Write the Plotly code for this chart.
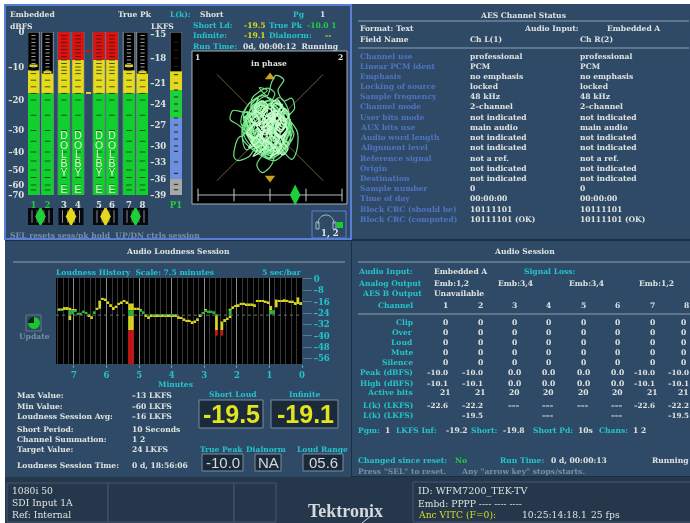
import numpy as np
import plotly.graph_objects as go

W, H = 690, 523
SERIF = "DejaVu Serif"
WHITE, CYAN, BLUE = "#dfe3e0", "#24c4cc", "#4f74c4"
YELLOW, GREEN, GREY = "#dcdc22", "#1fd03c", "#7890a6"
PANEL, STRIP = "#2e4a66", "#24374b"
TS = 7.6

# ---------- meter data ----------
channels = ["1", "2", "3", "4", "5", "6", "7", "8"]
channel_signal_db = [-11, -12, 0, 0, 0, 0, -11, -12]
channel_peak_db = [-10, -12, 0, 0, 0, 0, -10, -12]
dbfs_ticks = [0, -10, -20, -30, -40, -50, -60, -70]
dbfs_scale = [163, 128, 95, 64.5, 43, 25, 10, 0]
meter_marks_db = [-1, -2, -3, -4, -5, -6, -7, -8, -9, -10, -11, -12, -14, -16, -18, -20,
                  -25, -30, -35, -40, -45, -50, -55, -60, -65]
dolby_letters = ["D", "O", "L", "B", "Y", "E"]
dolby_db = [-32.6, -37.2, -41.7, -46.7, -52, -65]
lkfs_ticks = [-15, -18, -21, -24, -27, -30, -33, -36, -39]
lkfs_scale = [161, 137, 112, 91, 70, 49, 33, 16, 0]
lkfs_bands = [(-19.6, -22, "#e3d81e"), (-22, -26, GREEN), (-26, -36, "#6d8fe0"), (-36, -39, "#a8a8a8")]
lkfs_marks = [-16, -17, -18, -19, -20, -21, -22, -23, -24, -25, -26, -27, -28, -29, -30, -31, -33, -35, -37, -38]
pair_labels = ["1-2", "3-4", "5-6", "7-8"]
pair_colors = [GREEN, "#e3d81e", "#e3d81e", GREEN]
session_corr = [0.35]

# ---------- phase display (hand read trace) ----------
liss_x = [0.03,-0.3,-0.55,-0.7,-0.75,-0.6,-0.45,-0.6,-0.68,-0.62,-0.4,-0.2,0.07,0.03,-0.15,-0.25,-0.1,0.22,0.41,0.5,0.52,0.44,0.34,0.46,0.41,0.26,0.15,0.26,0.11,0.03,-0.05,-0.2,-0.05,
          -0.4,-0.5,-0.3,-0.1,0.11,0.32,0.38,0.26,0.07,-0.2,-0.45,-0.52,-0.3,0.0,0.22,0.38,0.32,0.09,-0.18,-0.38,-0.28,0.04,0.27,0.39,0.21,-0.04,-0.34,-0.55,-0.42,-0.12,0.15,0.35,0.45,0.28,0.01,-0.3,-0.48,-0.22,0.12,0.33,0.22,-0.08,-0.4,-0.36,0.0,0.24,0.42,0.3,0.06,-0.26,-0.5,-0.44,-0.1,0.18,0.38,0.25,0.0,-0.34,-0.46,-0.16,0.15,0.32,0.13,-0.14,-0.36,-0.12,0.19,0.36,0.16,-0.2,-0.44,-0.3,0.07,0.3,0.39,0.1,-0.24,-0.52,-0.2,0.09,-0.05,-0.35,-0.15,0.19,0.41,0.22]
liss_y = [0.1,0.25,0.3,0.32,0.15,0.05,-0.1,-0.2,-0.55,-0.62,-0.55,-0.3,-0.45,-0.7,-0.85,-0.7,-0.5,-0.45,-0.6,-0.45,-0.1,0.05,0.2,0.35,0.55,0.5,0.7,0.9,0.98,0.85,0.6,0.75,0.7,
          0.45,0.15,-0.1,0.38,0.5,0.28,-0.02,-0.32,-0.46,-0.28,-0.42,0.02,0.34,0.52,0.42,0.12,-0.22,-0.5,-0.38,-0.08,0.3,0.44,0.2,-0.16,-0.48,-0.56,-0.22,0.1,0.42,0.6,0.34,0.06,-0.12,-0.4,-0.58,-0.36,0.04,0.36,0.3,0.0,-0.3,-0.44,-0.16,0.26,0.5,0.36,-0.04,-0.34,-0.52,-0.44,-0.12,0.22,0.58,0.4,0.12,-0.2,-0.36,-0.26,0.18,0.46,0.28,-0.06,-0.42,-0.5,-0.08,0.3,0.56,0.24,-0.14,-0.26,0.06,0.44,0.38,0.02,-0.24,-0.62,-0.48,-0.18,0.2,0.64,0.74,0.52,0.1,0.22,0.06,0.16]
core_x = [0.0,-0.12,-0.25,-0.16,-0.3,-0.42,-0.3,-0.38,-0.24,-0.12,-0.2,-0.06,0.06,-0.04,0.1,0.2,0.12,0.22,0.3,0.2,0.28,0.36,0.24,0.14,0.22,0.1,0.02,0.1,-0.02,-0.14,-0.04,-0.18,-0.3,-0.2,-0.34,-0.44,-0.32,-0.4,-0.26,-0.14,-0.24,-0.1,0.02,-0.08,0.06,0.16,0.08,0.18,0.26,0.16,0.24,0.34,0.24,0.3,0.18,0.08,0.16,0.06,-0.06,0.04,-0.1,-0.22,-0.12,-0.26,-0.36,-0.24,-0.32,-0.18,-0.06,-0.16,-0.02,0.08,0.0,0.12,0.22,0.14,0.24,0.32,0.22,0.12,0.2,0.1,0.0,0.06,-0.06,-0.18,-0.08,-0.22,-0.34,-0.22,-0.3,-0.16,-0.04,-0.14,0.0,0.1,0.02,0.14,0.22,0.14,0.26,0.3,0.2,0.1,0.18,0.06,-0.04,0.06,-0.08,-0.2,-0.1,-0.24,-0.36,-0.26,-0.16,-0.02,0.08,0.16,0.06,0.14,0.02,-0.1,-0.02,-0.16,-0.08,0.04,0.12,0.02,0.1,0.2,0.1,0.02,-0.08,0.04,-0.06]
core_y = [0.0,0.12,0.04,-0.1,-0.2,-0.08,0.06,0.2,0.3,0.18,0.04,-0.06,0.08,0.22,0.32,0.2,0.06,-0.04,0.1,0.24,0.36,0.22,0.12,0.26,0.4,0.46,0.32,0.18,0.08,0.22,0.36,0.42,0.3,0.14,0.02,-0.12,-0.24,-0.38,-0.3,-0.16,-0.02,-0.14,-0.04,-0.2,-0.32,-0.2,-0.06,-0.16,-0.28,-0.4,-0.52,-0.4,-0.26,-0.12,-0.2,-0.08,0.06,0.16,0.02,-0.12,-0.24,-0.12,-0.28,-0.38,-0.26,-0.42,-0.54,-0.46,-0.34,-0.2,-0.3,-0.44,-0.56,-0.48,-0.36,-0.24,-0.14,-0.02,0.08,-0.02,0.14,0.24,0.12,0.28,0.38,0.26,0.14,0.04,0.14,0.26,0.38,0.5,0.42,0.28,0.18,0.3,0.44,0.52,0.4,0.28,0.18,0.04,-0.08,0.04,0.16,0.3,0.2,0.06,-0.06,-0.18,-0.04,-0.16,-0.28,-0.18,-0.3,-0.44,-0.36,-0.5,-0.4,-0.26,-0.14,-0.02,0.1,-0.04,0.1,0.24,0.12,0.26,0.14,0.02,0.12,0.0,-0.12,-0.02,0.08]
core2_x = [-0.5,-0.38,-0.46,-0.34,-0.42,-0.28,-0.36,-0.22,-0.3,-0.16,-0.26,-0.12,-0.2,-0.06,-0.16,-0.02,-0.1,0.02,-0.06,0.08,0.0,0.14,0.06,0.2,0.12,0.26,0.18,0.32,0.24,0.38,0.28,0.4,0.3,0.36,0.24,0.3,0.18,0.26,0.12,0.2,0.06,0.14,0.0,0.08,-0.06,0.02,-0.12,-0.04,-0.18,-0.1,-0.24,-0.16,-0.3,-0.22,-0.36,-0.28,-0.44,-0.34,-0.48,-0.38,-0.28,-0.4,-0.24,-0.32,-0.16,-0.26,-0.1,-0.18,-0.02,-0.12,0.04,-0.04,0.1,0.02,0.18,0.08,0.24,0.14,0.3,0.2,0.34,0.24,0.3,0.16,0.22,0.08,0.16,0.02,0.08,-0.06,0.0,-0.14,-0.06,-0.2,-0.12,-0.28,-0.18,-0.34,-0.24,-0.4,-0.3,-0.42,-0.3,-0.2,-0.28,-0.14,-0.04,-0.12,0.02,0.12,0.02,0.16,0.06,0.18,0.28,0.18,0.06,-0.06,-0.16,-0.04]
core2_y = [0.18,0.26,0.08,0.16,-0.04,0.06,-0.16,-0.06,-0.28,-0.16,-0.38,-0.26,-0.46,-0.34,-0.52,-0.4,-0.24,-0.34,-0.16,-0.26,-0.06,-0.18,0.02,-0.1,0.12,-0.02,0.22,0.06,0.3,0.14,-0.14,-0.04,-0.22,-0.32,-0.2,-0.42,-0.3,-0.5,-0.38,-0.14,-0.26,0.02,-0.12,0.12,-0.02,0.24,0.06,0.34,0.18,0.44,0.28,0.5,0.36,0.56,0.42,0.22,0.3,0.1,0.2,-0.02,0.12,-0.14,-0.02,-0.24,-0.12,-0.32,-0.2,-0.42,-0.3,-0.5,-0.36,0.0,0.26,0.08,0.32,0.18,0.44,0.28,0.32,0.12,-0.04,-0.16,-0.28,-0.16,-0.36,-0.24,-0.42,-0.3,0.18,0.04,0.28,0.14,0.4,0.24,0.5,0.34,0.12,0.24,0.02,0.14,-0.1,0.02,-0.2,-0.08,-0.3,-0.18,-0.4,-0.28,-0.46,-0.32,0.16,0.26,0.38,0.44,0.3,0.18,0.04,-0.1,0.02,0.14]

# ---------- loudness history ----------
hist_high = [-20.8,-20.8,-19.8,-19.8,-20.3,-21.3,-21.3,-23.8,-23.8,-22.3,-23.3,-25.3,-26.3,-22.8,-20.3,-15.3,-13.3,-13.8,-15.8,-17.8,-19.8,-18.8,-16.8,-15.8,-14.8,-15.8,-17.3,-17.3,-20.3,-20.3,-21.3,-22.8,-25.3,-26.3,-24.8,-24.8,-24.8,-24.8,-24.8,-24.8,-24.8,-24.8,-24.8,-24.8,-26.3,-26.8,-27.8,-28.8,-28.8,-29.8,-29.3,-27.8,-25.3,-23.3,-21.8,-22.3,-22.3,-22.8,-25,np.nan,-30,-28.3,-27.3,-21,-19.3,-18.3,-17.8,-16.8,-16.8,-17.3,-17.3,-17.3,-17.8,-14.8,-14.8,-14.8,-15.3,-15.8,-19,-22,-14.5,-14.8,-14.8,-14.3,-14.8,-15.3,-15.3,-16.3,-13,-16.3]
hist_low = [-22.2,-22.2,-21.2,-21.2,-29,-25,-22.7,-25.2,-25.2,-23.7,-24.7,-26.7,-27.7,-24.2,-21.7,-21,-14.7,-15.2,-17.2,-19.2,-21.2,-20.2,-18.2,-17.2,-16.2,-17.2,-60,-60,-21.7,-21.7,-22.7,-24.2,-26.7,-27.7,-26.2,-26.2,-26.2,-26.2,-26.2,-26.2,-26.2,-26.2,-26.2,-26.2,-27.7,-28.2,-29.2,-30.2,-30.2,-31.2,-30.7,-29.2,-26.7,-24.7,-23.2,-23.7,-23.7,-24.2,-40,np.nan,-40,-29.7,-28.7,-27,-20.7,-19.7,-19.2,-18.2,-18.2,-18.7,-18.7,-18.7,-19.2,-16.2,-16.2,-16.2,-16.7,-17.2,-25,-25,-20,-16.2,-16.2,-15.7,-16.2,-16.7,-16.7,-17.7,-17.7,-17.7]
hist_bands = [(0.7, -22, "#d8d41e"), (-22, -26, "#25b83a"), (-26, -36, "#d8d41e"), (-36, -60, "#c81414")]
hist_yticks = [0, -8, -16, -24, -32, -40, -48, -56]
hist_xticks = [7, 6, 5, 4, 3, 2, 1, 0]
hist_minor = [7.5, 6.5, 5.5, 4.5, 3.5, 2.5, 1.5, 0.5, 6.83, 6.17, 5.83, 5.17, 4.83, 4.17, 3.83, 3.17, 2.83, 2.17, 1.83, 1.17, 0.83, 0.17,
              7.33, 7.17, 6.67, 6.33, 5.67, 5.33, 4.67, 4.33, 3.67, 3.33, 2.67, 2.33, 1.67, 1.33, 0.67, 0.33]
target_line = -25.5
update_fraction = [3, 1]

# ---------- text tables ----------
aes_names = ["Channel use","Linear PCM ident","Emphasis","Locking of source","Sample frequency","Channel mode","User bits mode","AUX bits use","Audio word length","Alignment level","Reference signal","Origin","Destination","Sample number","Time of day","Block CRC (should be)","Block CRC (computed)"]
aes_values = ["professional","PCM","no emphasis","locked","48 kHz","2-channel","not indicated","main audio","not indicated","not indicated","not a ref.","not indicated","not indicated","0","00:00:00","10111101","10111101 (OK)"]
sess_rows = ["Clip","Over","Loud","Mute","Silence","Peak (dBFS)","High (dBFS)","Active bits","L(k) (LKFS)","L(k) (LKFS)"]
sess_channels = ["1","2","3","4","5","6","7","8"]
sess_table = [["0"]*8,["0"]*8,["0"]*8,["0"]*8,["0"]*8,
              ["-10.0","-10.0","0.0","0.0","0.0","0.0","-10.0","-10.0"],
              ["-10.1","-10.1","0.0","0.0","0.0","0.0","-10.1","-10.1"],
              ["21","21","20","20","20","20","21","21"],
              ["-22.6","-22.2","---","---","---","---","-22.6","-22.2"],
              ["","-19.5","","---","","---","","-19.5"]]
stat_labels = ["Max Value:","Min Value:","Loudness Session Avg:","Short Period:","Channel Summation:","Target Value:","Loudness Session Time:"]
stat_values = ["-13 LKFS","-60 LKFS","-16 LKFS","10 Seconds","1 2","24 LKFS","0 d, 18:56:06"]

# ---------- helpers ----------
layout_axes, shapes, notes, traces = {}, [], [], []
axis_no = [0]

def px(x): return x / W
def py(y): return 1 - y / H

def axes(x0, x1, y_top, y_bot, xr, yr, xopts=None, yopts=None):
    axis_no[0] += 1
    n = axis_no[0]
    base = dict(showgrid=False, zeroline=False, showticklabels=False, ticks="", fixedrange=True, showline=False)
    xa = dict(base, domain=[px(x0), px(x1)], range=xr, anchor=f"y{n}")
    ya = dict(base, domain=[py(y_bot), py(y_top)], range=yr, anchor=f"x{n}")
    xa.update(xopts or {}); ya.update(yopts or {})
    layout_axes[f"xaxis{n}"] = xa
    layout_axes[f"yaxis{n}"] = ya
    return f"x{n}", f"y{n}"

def rect(x0, y0, x1, y1, fill="rgba(0,0,0,0)", line=None, width=1):
    shapes.append(dict(type="rect", xref="paper", yref="paper", x0=px(x0), x1=px(x1), y0=py(y0), y1=py(y1),
                       fillcolor=fill, line=dict(color=line or fill, width=width if line else 0), layer="below"))

def hline(x0, x1, y, color="#8ea0ae", width=1):
    shapes.append(dict(type="line", xref="paper", yref="paper", x0=px(x0), x1=px(x1), y0=py(y), y1=py(y),
                       line=dict(color=color, width=width), layer="below"))

def txt(s, x, y, color=WHITE, size=TS, anchor="left", bold=True, family=SERIF):
    t = f"<b>{s}</b>" if bold else s
    notes.append(dict(text=t, x=px(x), y=py(y), xref="paper", yref="paper", xanchor=anchor, yanchor="middle",
                      showarrow=False, font=dict(family=family, size=size, color=color), borderpad=0, borderwidth=0))

# ---------- panels ----------
rect(0, 0, W, H, "#ffffff")
rect(5, 4, W, H, "#1c2e42")
rect(5, 5, 351, 239, PANEL, "#5a7ed6", 2)
rect(352, 4, W, 239, PANEL)
rect(5, 241, 351, 477, PANEL)
rect(352, 241, W, 476, PANEL)
rect(5, 477, W, H, STRIP)
rect(7, 483, 108, 522, STRIP, "#46586a")
rect(108, 483, 234, 522, STRIP, "#46586a")
rect(234, 483, 276, 522, STRIP, "#46586a")
rect(413, 482, W + 2, 522, STRIP, "#46586a")

# ---------- dBFS meters ----------
meter_x = [33.5, 47.5, 64, 78, 99, 112, 129, 142.5]
dbs = lambda v: np.interp(-np.asarray(v, float), -np.array(dbfs_ticks, float), dbfs_scale)
lks = lambda v: np.interp(-np.asarray(v, float), -np.array(lkfs_ticks, float), lkfs_scale)
bar_w = 11.6
tick_font = dict(family=SERIF, size=8.5, color=WHITE)
ax, ay = axes(28, 148, 32, 195, [28, 148], [0, 163],
              dict(showticklabels=True, tickmode="array", tickvals=meter_x,
                   ticktext=[f'<span style="color:{GREEN if c in "12" else WHITE}"><b>{c}</b></span>' for c in channels],
                   tickfont=tick_font, ticklen=2, tickcolor="rgba(0,0,0,0)", ticks="outside"),
              dict(showticklabels=True, tickmode="array", tickvals=[float(dbs(v)) for v in dbfs_ticks],
                   ticktext=[f"<b>{str(v).replace('-', '&#8211;')}</b>" for v in dbfs_ticks],
                   tickfont=tick_font, ticks="outside", ticklen=1, tickcolor="rgba(0,0,0,0)"))
traces.append(go.Bar(x=meter_x, y=[163]*8, base=[0]*8, width=bar_w, marker=dict(color="#000000", line=dict(color="#8a94a0", width=1)), xaxis=ax, yaxis=ay))
for lo, hi, col in [(-70, -18, "#0fd02c"), (-18, -8, "#e6da1c"), (-8, 0, "#e01010")]:
    tops = [min(hi, s) for s in channel_signal_db]
    show = [s > lo for s in channel_signal_db]
    ys = [float(dbs(t) - dbs(lo)) if k else 0 for t, k in zip(tops, show)]
    traces.append(go.Bar(x=meter_x, y=ys, base=[float(dbs(lo))]*8, width=bar_w, marker=dict(color=col, line=dict(width=0)), xaxis=ax, yaxis=ay))
pk = [i for i, s in enumerate(channel_signal_db) if s < 0]
traces.append(go.Bar(x=[meter_x[i] for i in pk], y=[2.5]*len(pk), base=[float(dbs(channel_peak_db[i])) for i in pk], width=8,
                     marker=dict(color="#e6da1c", line=dict(width=0)), xaxis=ax, yaxis=ay))
mx, my, gx, gy = [], [], [], []
for i, s in enumerate(channel_signal_db):
    for d in meter_marks_db:
        if d <= s:
            mx.append(meter_x[i]); my.append(float(dbs(d)))
        else:
            gx.append(meter_x[i]); gy.append(float(dbs(d)))
traces.append(go.Scatter(x=mx, y=my, mode="markers", marker=dict(symbol="line-ew", size=4, line=dict(color="rgba(20,40,20,0.75)", width=1)), xaxis=ax, yaxis=ay))
traces.append(go.Scatter(x=gx, y=gy, mode="markers", marker=dict(symbol="line-ew", size=3, line=dict(color="#9a9a9a", width=1)), xaxis=ax, yaxis=ay))
for ch in (2, 3, 4, 5):
    traces.append(go.Scatter(x=[meter_x[ch]]*6, y=[float(dbs(d)) for d in dolby_db], mode="text", text=dolby_letters,
                             textfont=dict(family="Liberation Sans", size=10.5, color="#e8f4d0"), xaxis=ax, yaxis=ay))
traces.append(go.Bar(x=[88.5], y=[1.2], base=[float(dbs(-5.5))], width=5, marker=dict(color="#c81414", line=dict(width=0)), xaxis=ax, yaxis=ay))
traces.append(go.Bar(x=[88.5], y=[1.2], base=[float(dbs(-18))], width=5, marker=dict(color="#e6da1c", line=dict(width=0)), xaxis=ax, yaxis=ay))

# ---------- LKFS meter ----------
bx, by = axes(170, 182, 32, 195, [0, 1], [0, 163],
              dict(showticklabels=True, tickmode="array", tickvals=[0.5], ticktext=[f'<b><span style="color:{GREEN}">P1</span></b>'],
                   tickfont=tick_font, ticks="outside", ticklen=2, tickcolor="rgba(0,0,0,0)"),
              dict(showticklabels=True, tickmode="array", tickvals=[float(lks(v)) for v in lkfs_ticks],
                   ticktext=[f"<b>{str(v).replace('-', '&#8211;')}</b>" for v in lkfs_ticks],
                   tickfont=tick_font, ticks="outside", ticklen=1, tickcolor="rgba(0,0,0,0)"))
traces.append(go.Bar(x=[0.5], y=[163], base=[0], width=1, marker=dict(color="#000", line=dict(color="#8a94a0", width=1)), xaxis=bx, yaxis=by))
for hi, lo, col in lkfs_bands:
    traces.append(go.Bar(x=[0.5], y=[float(lks(hi) - lks(lo))], base=[float(lks(lo))], width=1, marker=dict(color=col, line=dict(width=0)), xaxis=bx, yaxis=by))
traces.append(go.Scatter(x=[0.5]*len(lkfs_marks), y=[float(lks(v)) for v in lkfs_marks], mode="markers",
                         marker=dict(symbol="line-ew", size=3, line=dict(color="#222", width=1)), xaxis=bx, yaxis=by))
traces.append(go.Scatter(x=[1.5, 1.5, 1.5, 1.5], y=[float(lks(-22)), float(lks(-23.7)), float(lks(-26)), float(lks(-36))], mode="markers",
                         marker=dict(symbol="triangle-left", size=5, color=["#e3d81e", "#ffffff", "#6d8fe0", "#a8a8a8"], line=dict(width=0)),
                         xaxis=bx, yaxis=by, cliponaxis=False))

# ---------- pair phase indicators ----------
pair_x = [40.5, 71, 105.5, 135.5]
cx, cy = axes(28, 148, 208, 225, [28, 148], [0, 1])
traces.append(go.Bar(x=pair_x, y=[1]*4, base=[0]*4, width=25, marker=dict(color="#05080c", line=dict(width=0)), xaxis=cx, yaxis=cy))
for off, col in [(-8.5, "#889"), (8.5, "#889"), (-3.5, "#667"), (3.5, "#667")]:
    traces.append(go.Scatter(x=[p + off for p in pair_x], y=[0.5]*4, mode="markers",
                             marker=dict(symbol="line-ns", size=9, line=dict(color=col, width=1)), xaxis=cx, yaxis=cy))
traces.append(go.Scatter(x=pair_x, y=[0.5]*4, mode="markers", text=pair_labels,
                         marker=dict(symbol="diamond-tall", size=15, color=pair_colors, line=dict(width=0)), xaxis=cx, yaxis=cy))

# ---------- phase display ----------
rect(192, 51, 347, 204, "#000000", "#a8b0b8", 1)
dx, dy = axes(192, 347, 51, 204, [-1.47, 1.45], [-1.44, 1.44])
for a, b in [((-1, 1), (1, -1)), ((-1, -1), (1, 1))]:
    traces.append(go.Scatter(x=[a[0], b[0]], y=[a[1], b[1]], mode="lines", line=dict(color="#6a6238", width=1), xaxis=dx, yaxis=dy))
traces.append(go.Scatter(x=[0, 0], y=[-0.95, 0.95], mode="markers", marker=dict(symbol=["triangle-down", "triangle-up"], size=9, color="#c8a21a"), xaxis=dx, yaxis=dy))
traces.append(go.Scatter(x=liss_x, y=liss_y, mode="lines", line=dict(color="#6fe085", width=1.2, shape="spline", smoothing=0.9), xaxis=dx, yaxis=dy))
traces.append(go.Scatter(x=core2_x, y=core2_y, mode="lines", line=dict(color="#8cf09c", width=1.3, shape="spline", smoothing=0.8), xaxis=dx, yaxis=dy))
traces.append(go.Scatter(x=core_x, y=core_y, mode="lines", line=dict(color="#c6fccb", width=1.3, shape="spline", smoothing=0.8), xaxis=dx, yaxis=dy))

ex, ey = axes(198, 342, 188, 202, [-1, 1], [-1, 1])
traces.append(go.Scatter(x=[-1, 1], y=[0, 0], mode="lines", line=dict(color="#b8bcc0", width=1), xaxis=ex, yaxis=ey))
traces.append(go.Scatter(x=[-1, -0.5, 0, 0.5, 1], y=[0]*5, mode="markers", marker=dict(symbol="line-ns", size=9, line=dict(color="#c8ccd0", width=1)), xaxis=ex, yaxis=ey, cliponaxis=False))
traces.append(go.Scatter(x=session_corr, y=[0], mode="markers", marker=dict(symbol="diamond-tall", size=15, color=GREEN, line=dict(width=0)), xaxis=ex, yaxis=ey, cliponaxis=False))

# ---------- loudness history ----------
rect(56, 278, 302, 364, "#000000")
cyan_font = dict(family=SERIF, size=8.5, color=CYAN)
hx, hy = axes(56, 302, 278, 364, [7.55, 0], [-60, 0.7],
              dict(showticklabels=True, tickmode="array", tickvals=hist_xticks, ticktext=[f"<b>{v}</b>" for v in hist_xticks],
                   tickfont=cyan_font, ticks="outside", ticklen=3, tickcolor="#5ea8b8",
                   showgrid=True, gridcolor="#8c8c8c", gridwidth=1,
                   minor=dict(tickmode="array", tickvals=hist_minor, showgrid=True, gridcolor="#383838", gridwidth=1, ticks="")),
              dict(side="right", showticklabels=True, tickmode="array", tickvals=hist_yticks,
                   ticktext=[f"<b>{str(v).replace('-', '&#8211;')}</b>" for v in hist_yticks],
                   tickfont=cyan_font, ticks="outside", ticklen=9, tickcolor="#4d7f94"))
minutes = [7.5 - (i + 0.5) * 5 / 60 for i in range(len(hist_high))]
for top, bot, col in hist_bands:
    xs, ys, bs = [], [], []
    for m, h, l in zip(minutes, hist_high, hist_low):
        if np.isnan(h):
            continue
        t, b = min(h, top), max(l, bot)
        if t > b:
            xs.append(m); ys.append(t - b); bs.append(b)
    traces.append(go.Bar(x=xs, y=ys, base=bs, width=5 / 60, marker=dict(color=col, line=dict(width=0)), xaxis=hx, yaxis=hy))
traces.append(go.Scatter(x=[7.55, 0], y=[target_line]*2, mode="lines", line=dict(color="#707070", width=1, dash="dot"), xaxis=hx, yaxis=hy))

traces.append(go.Pie(values=update_fraction, sort=False, direction="clockwise", rotation=0, hole=0, textinfo="none",
                     marker=dict(colors=["#17c82e", "#0a2010"], line=dict(width=0)),
                     domain=dict(x=[px(28), px(40)], y=[py(329), py(317)]), showlegend=False))
rect(26, 315, 41, 331, "rgba(0,0,0,0)", "#64788a")

# ---------- readout boxes ----------
for x0, y0, x1, y1 in [(199, 400, 263, 428), (271, 400, 338, 428), (202, 454, 243, 471), (255, 454, 281, 471), (303, 454, 343, 471)]:
    rect(x0, y0, x1, y1, "#1a2a3a", "#7c8c98")
txt("-19.5", 231, 414, "#e2e41e", 25, "center", True, "Liberation Sans")
txt("-19.1", 305, 414, "#e2e41e", 25, "center", True, "Liberation Sans")
txt("-10.0", 222.5, 462.5, "#d3d9dd", 15, "center", False, "Liberation Sans")
txt("NA", 268, 462.5, "#d3d9dd", 15, "center", False, "Liberation Sans")
txt("05.6", 323, 462.5, "#d3d9dd", 15, "center", False, "Liberation Sans")

# ---------- top left text ----------
txt("Embedded", 10, 15); txt("True Pk", 118, 15); txt("L(k):", 170, 15, CYAN); txt("Short", 200, 15)
txt("Pg", 293, 15, CYAN); txt("1", 320, 15)
txt("dBFS", 10, 26); txt("LKFS", 151, 26)
txt("Short Ld:", 193, 25, CYAN); txt("-19.5", 244, 25, YELLOW); txt("True Pk", 269, 25, CYAN); txt("-10.0 1", 307, 25, GREEN)
txt("Infinite:", 193, 35.5, CYAN); txt("-19.1", 244, 35.5, YELLOW); txt("Dialnorm:", 269, 35.5, CYAN); txt("--", 325, 35.5, YELLOW)
txt("Run Time:", 193, 46, CYAN); txt("0d, 00:00:12  Running", 243, 46)
txt("1", 195, 57); txt("2", 343, 57, anchor="right"); txt("in phase", 269, 63, anchor="center")
txt("SEL resets sess/pk hold  UP/DN ctrls session", 10, 235, GREY)
rect(312, 211, 346, 238, "rgba(0,0,0,0)", "#5a7ed6", 1)
shapes.append(dict(type="path", xref="paper", yref="paper", layer="above", line=dict(color="#a8b8c8", width=1),
                   path=f"M {px(318)} {py(224)} C {px(318)} {py(212)}, {px(334)} {py(212)}, {px(334)} {py(224)}"))
rect(316, 222, 319, 229, "rgba(0,0,0,0)", "#a8b8c8")
rect(333, 222, 336, 229, "rgba(0,0,0,0)", "#a8b8c8")
rect(337, 222, 343, 228, "#10d02c")
txt("1, 2", 330, 233.5, size=8.5, anchor="center")

# ---------- AES status ----------
txt("AES Channel Status", 523, 16, anchor="center")
hline(358, 689, 21); hline(358, 689, 48)
txt("Format: Text", 360, 29); txt("Audio Input:", 524, 29); txt("Embedded A", 607, 29)
txt("Field Name", 360, 40); txt("Ch L(1)", 470, 40); txt("Ch R(2)", 580, 40)
for i, (n, v) in enumerate(zip(aes_names, aes_values)):
    y = 56 + i * 10.2
    txt(n, 360, y, BLUE); txt(v.replace("-", "&#8211;"), 470, y); txt(v.replace("-", "&#8211;"), 580, y)

# ---------- bottom-left text ----------
txt("Audio Loudness Session", 178, 252, anchor="center"); hline(13, 345, 262)
txt("Loudness History  Scale: 7.5 minutes", 56, 272.5, CYAN); txt("5 sec/bar", 302, 272.5, CYAN, anchor="right")
txt("Minutes", 175, 384, CYAN, anchor="center"); txt("Update", 34, 336, GREY, anchor="center")
for lab, val, y in zip(stat_labels, stat_values, [395, 406, 416, 429, 439, 449, 465]):
    txt(lab, 17, y); txt(val.replace("-", "&#8211;"), 132, y)
txt("Short Loud", 233, 394.5, CYAN, anchor="center"); txt("Infinite", 305, 394.5, CYAN, anchor="center")
txt("True Peak", 222, 449, CYAN, anchor="center"); txt("Dialnorm", 266, 449, CYAN, anchor="center"); txt("Loud Range", 322, 449, CYAN, anchor="center")

# ---------- audio session ----------
txt("Audio Session", 524, 252, anchor="center"); hline(358, 690, 262); hline(358, 690, 314)
txt("Audio Input:", 358, 271, CYAN); txt("Embedded A", 434, 271); txt("Signal Loss:", 524, 271, CYAN)
txt("Analog Output", 358, 283, CYAN); txt("AES B Output", 362, 293, CYAN); txt("Unavailable", 434, 293)
for s, x in zip(["Emb:1,2", "Emb:3,4", "Emb:3,4", "Emb:1,2"], [434, 498, 569, 639]):
    txt(s, x, 283)
col_x = [445, 480, 514, 548, 583, 617, 652, 686]
row_y = [322, 332, 342, 352, 362, 372, 383, 392.5, 405, 415]
txt("Channel", 413, 305, CYAN, anchor="right")
for c, x in zip(sess_channels, col_x):
    txt(c, x, 305, anchor="center", size=TS)
for name, vals, y in zip(sess_rows, sess_table, row_y):
    txt(name, 413, y, CYAN, anchor="right")
    for v, x in zip(vals, col_x):
        if not v:
            continue
        if v.startswith("-") and v != "---":
            txt(v.replace("-", "&#8211;"), x + 2.5, y, anchor="right", size=7.2)
        else:
            txt(v.replace("-", "&#8211;"), min(x, 683), y, anchor="center")
txt("Pgm:", 358, 430, CYAN); txt("1", 385, 430); txt("LKFS Inf:", 396, 430, CYAN); txt("-19.2", 446, 430)
txt("Short:", 471, 430, CYAN); txt("-19.8", 503, 430); txt("Short Pd:", 533, 430, CYAN); txt("10s", 578, 430)
txt("Chans:", 599, 430, CYAN); txt("1 2", 633, 430)
txt("Changed since reset:", 358, 460, CYAN); txt("No", 455, 460, GREEN); txt("Run Time:", 500, 460, CYAN)
txt("0 d, 00:00:13", 551, 460); txt("Running", 652, 460)
txt('Press "SEL" to reset.', 358, 471, GREY); txt('Any "arrow key" stops/starts.', 461, 471, GREY)

# ---------- status strip ----------
SS = 9.2
txt("1080i 50", 12, 490, size=SS, bold=False); txt("SDI Input 1A", 12, 502, size=SS, bold=False); txt("Ref: Internal", 12, 514, size=SS, bold=False)
txt("Tektronix", 345, 511, "#d5d9dc", 18, "center", True, "Liberation Serif")
shapes.append(dict(type="line", xref="paper", yref="paper", x0=px(362), x1=px(372), y0=py(523), y1=py(515), line=dict(color="#d5d9dc", width=1)))
txt("ID: WFM7200_TEK-TV", 418, 491, size=9.6, bold=False); txt("Embd: PPPP ---- ---- ----", 418, 503, size=SS, bold=False)
txt("Anc VITC (F=0):", 418, 514, YELLOW, size=SS, bold=False); txt("10:25:14:18.1", 522, 514, size=SS, bold=False); txt("25 fps", 591, 514, size=SS, bold=False)

fig = go.Figure(traces)
fig.update_layout(width=W, height=H, margin=dict(l=0, r=0, t=0, b=0, pad=0, autoexpand=False), autosize=False, showlegend=False,
                  paper_bgcolor="#ffffff", plot_bgcolor="rgba(0,0,0,0)", barmode="overlay", hovermode=False,
                  shapes=shapes, annotations=notes, **layout_axes)
fig.write_html("out.html", config=dict(displayModeBar=False),
               post_script="document.body.style.margin='0';document.body.style.overflow='hidden';"
                           "var c=document.querySelector('.svg-container');if(c){c.style.filter='blur(0.45px)';}")
